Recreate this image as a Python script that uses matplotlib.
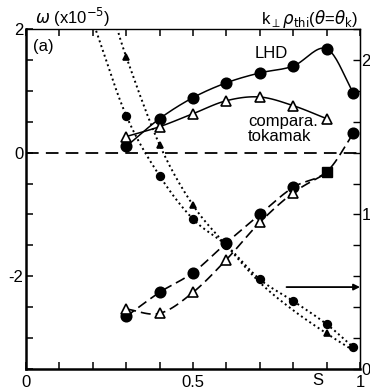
import numpy as np
import matplotlib
matplotlib.use( 'Agg' )
import matplotlib.pyplot as plt

#-------------------------------------------------------------------------
# Data
#-------------------------------------------------------------------------

# growth rate (solid, left axis)
s_lhd_g   = [ 0.3, 0.4, 0.5, 0.6, 0.7, 0.8, 0.9, 0.98 ]
lhd_g     = [ 0.10, 0.55, 0.89, 1.13, 1.29, 1.40, 1.68, 0.97 ]
s_tok_g   = [ 0.3, 0.4, 0.5, 0.6, 0.7, 0.8, 0.9 ]
tok_g     = [ 0.26, 0.42, 0.63, 0.84, 0.90, 0.76, 0.55 ]

# real frequency (dashed, left axis)
s_lhd_w   = [ 0.3, 0.4, 0.5, 0.6, 0.7, 0.8, 0.9, 0.98 ]
lhd_w     = [ -2.65, -2.26, -1.94, -1.46, -1.00, -0.56, -0.31, 0.31 ]
s_tok_w   = [ 0.3, 0.4, 0.5, 0.6, 0.7, 0.8, 0.9 ]
tok_w     = [ -2.53, -2.60, -2.26, -1.73, -1.13, -0.65, -0.33 ]

# k_perp rho_thi (dotted, right axis); first point is where the curve
# leaves the top of the frame, drawn without a marker
s_lhd_k   = [ 0.2, 0.3, 0.4, 0.5, 0.6, 0.7, 0.8, 0.9, 0.98 ]
lhd_k     = [ 2.25, 1.64, 1.25, 0.97, 0.80, 0.58, 0.44, 0.29, 0.14 ]
s_tok_k   = [ 0.26, 0.3, 0.4, 0.5, 0.6, 0.7, 0.8, 0.9, 0.98 ]
tok_k     = [ 2.30, 2.02, 1.45, 1.06, 0.80, 0.56, 0.38, 0.23, 0.12 ]

arrow_k   = 0.53

#-------------------------------------------------------------------------
# smooth
#-------------------------------------------------------------------------
# Catmull-Rom path through the points, only used for drawing the line.

def smooth( xs, ys, n=20 ):
  p = np.column_stack( [ xs, ys ] ).astype( float )
  p = np.vstack( [ 2*p[0] - p[1], p, 2*p[-1] - p[-2] ] )
  out = []
  t = np.linspace( 0, 1, n, endpoint=False )[:, None]
  for i in range( 1, len( p ) - 2 ):
    p0, p1, p2, p3 = p[i-1], p[i], p[i+1], p[i+2]
    seg = 0.5 * ( 2*p1 + ( -p0 + p2 )*t
                  + ( 2*p0 - 5*p1 + 4*p2 - p3 )*t**2
                  + ( -p0 + 3*p1 - 3*p2 + p3 )*t**3 )
    out.append( seg )
  out.append( p[-2][None, :] )
  out = np.vstack( out )
  return out[:, 0], out[:, 1]

def curve( ax, xs, ys, ls, lw, mk, ms, mfc, every=None ):
  sx, sy = smooth( xs, ys )
  ax.plot( sx, sy, color='black', ls=ls, lw=lw )
  mx = np.array( xs ); my = np.array( ys )
  if every is not None:
    mx = mx[every]; my = my[every]
  ax.plot( mx, my, ls='none', marker=mk, ms=ms, mfc=mfc, mec='black',
           mew=1.2, zorder=5 )

#-------------------------------------------------------------------------
# plot
#-------------------------------------------------------------------------

plt.rcParams['font.family'] = [ 'Liberation Sans', 'DejaVu Sans' ]
plt.rcParams['font.size'] = 12

fig = plt.figure( figsize=( 3.7, 3.92 ), dpi=100 )
ax  = fig.add_axes( [ 0.0703, 0.0587, 0.9027, 0.8673 ] )
ax2 = ax.twinx()

dash = ( 0, ( 6, 3 ) )
dot  = ( 0, ( 1, 1.6 ) )

ax.axhline( 0, color='black', ls=( 0, ( 7, 4 ) ), lw=1.3 )

curve( ax, s_lhd_g, lhd_g, '-', 1.1, 'o', 7.5, 'black' )
curve( ax, s_tok_g, tok_g, '-', 1.1, '^', 7.5, 'white' )
curve( ax, s_lhd_w, lhd_w, dash, 1.2, 'o', 7.5, 'black', every=[ 0, 1, 2, 3, 4, 5, 7 ] )
curve( ax, s_tok_w, tok_w, dash, 1.2, '^', 7.5, 'white', every=slice( 0, 6 ) )

# overlapping markers at s=0.9 print as a filled square
ax.plot( s_lhd_w[6], lhd_w[6], ls='none', marker='s', ms=7, color='black', zorder=6 )

curve( ax2, s_lhd_k, lhd_k, dot, 1.4, 'o', 5.5, 'black', every=slice( 1, None ) )
curve( ax2, s_tok_k, tok_k, dot, 1.4, '^', 5, 'black', every=[ 1, 2, 3, 7 ] )

ax2.annotate( '', xy=( 1.0, arrow_k ), xytext=( 0.78, arrow_k ),
              arrowprops=dict( arrowstyle='-|>', color='black', lw=1.3,
                               mutation_scale=9, shrinkA=0, shrinkB=0 ) )

# axes ranges and ticks
ax.set_xlim( 0, 1 )
ax.set_ylim( -3.5, 2 )
ax2.set_ylim( 0, 2.2 )

ax.set_xticks( np.arange( 0, 1.01, 0.1 ) )
ax.set_xticklabels( [ '0', '', '', '', '', '0.5', '', '', '', '', '1' ] )
ax.set_yticks( np.arange( -3.5, 2.01, 0.5 ) )
ax.set_yticklabels( [ '' if v not in ( -2, 0, 2 ) else '%d' % v
                      for v in np.arange( -3.5, 2.01, 0.5 ) ] )
ax2.set_yticks( np.arange( 0, 2.21, 0.2 ) )
ax2.set_yticklabels( [ '%d' % round( v ) if abs( v - round( v ) ) < 1e-6 else ''
                       for v in np.arange( 0, 2.21, 0.2 ) ] )

ax.tick_params( axis='both', direction='in', length=5, width=1.1, pad=2,
                top=True, labelsize=12 )
ax.tick_params( axis='x', pad=4 )
ax2.tick_params( axis='y', direction='in', length=5, width=1.0, pad=1,
                 labelsize=12 )

for sp in ( 'left', 'bottom' ):
  ax.spines[sp].set_linewidth( 1.8 )
ax.spines['top'].set_linewidth( 1.0 )
ax2.spines['right'].set_linewidth( 1.0 )
ax2.spines['top'].set_visible( False )
ax2.spines['left'].set_visible( False )
ax2.spines['bottom'].set_visible( False )

# labels
fig.text( 0.095, 0.955, r'$\omega$ (x10$^{-5}$)', fontsize=12, va='center' )
fig.text( 0.705, 0.952, r'k$_\perp\rho_{\rm thi}$($\theta$=$\theta_{\rm k}$)',
          fontsize=12, va='center' )
ax.text( 0.02, 1.72, '(a)', fontsize=12, va='center' )
ax.text( 0.685, 1.60, 'LHD', fontsize=12, va='center' )
ax.text( 0.665, 0.50, 'compara.', fontsize=12, va='center' )
ax.text( 0.665, 0.26, 'tokamak', fontsize=12, va='center' )
fig.text( 0.86, 0.030, 'S', fontsize=12, ha='center', va='center' )

fig.savefig( 'out.png', dpi=100 )
